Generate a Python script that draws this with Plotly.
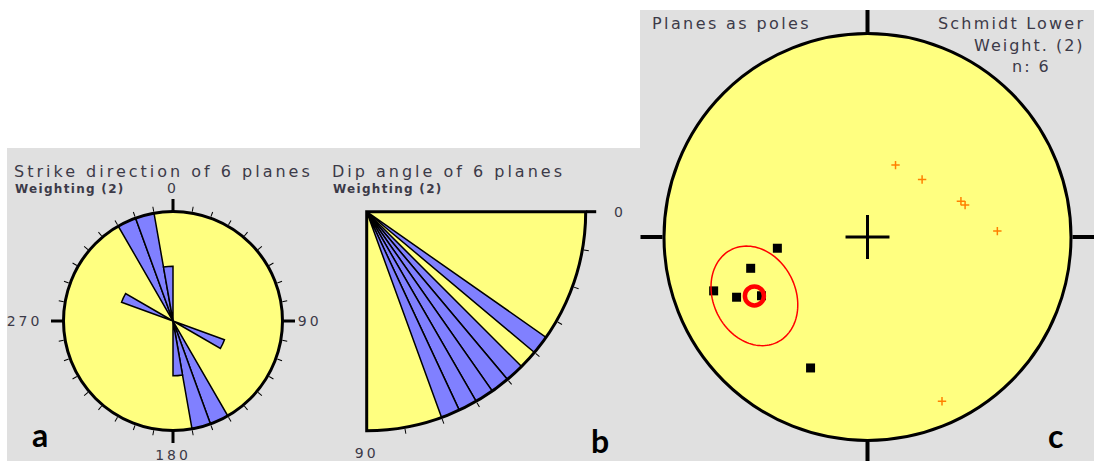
import numpy as np
import plotly.graph_objects as go

W, H = 1094, 461

# a: strike rose, 10 degree bins (the opposite half is the same data mirrored)
strike_bins = [290, 330, 340, 350]
strike_counts = [1, 2, 2, 1]
strike_labels = ["0", "90", "180", "270\u2009"]

# b: dip angle, 5 degree bins
dip_bins = [35, 45, 50, 55, 60, 65]
dip_counts = [1, 1, 1, 1, 1, 1]
dip_labels = ["\u00a0\u00a00", "90"]

# c: poles of planes and dip vectors (trend / plunge, degrees)
pole_trend = [262.9, 255.0, 250.7, 245.3, 203.5, 241.0]
pole_plunge = [53.2, 40.3, 21.0, 29.9, 30.5, 40.2]
dipvec_trend = [21.3, 43.5, 69.0, 71.9, 87.4, 155.6]
dipvec_plunge = [58.9, 58.0, 49.3, 48.2, 36.3, 12.4]
mean_trend = 242.5
mean_plunge = 37.4
cone_a, cone_b, cone_rot = 0.254, 0.202, 116.3

YELLOW = "#FFFF80"
BLUE = "#8080FF"
GRAY = "#E0E0E0"
TXT = "#3C3A48"
FONT = "DejaVu Sans"
CLEAR = "rgba(0,0,0,0)"


def dom_x(x0, x1):
    return [x0 / W, x1 / W]


def dom_y(y0, y1):
    return [1 - y1 / H, 1 - y0 / H]


def schmidt(plunge):
    return np.sqrt(2) * np.sin(np.radians(90 - np.asarray(plunge, dtype=float)) / 2)


def spaced(text, ls):
    return f"<span style='letter-spacing:{ls}px'>{text}</span>"


def dip_theta(d):
    # dip 0 = horizontal (east), 90 = vertical (south), counterclockwise sector
    return 360 - d


dom_a = dict(x=dom_x(63.5, 282.5), y=dom_y(211.5, 430.5))
dom_b = dict(x=dom_x(366.7, 585.7), y=dom_y(211.7, 430.7))
dom_c = dict(x=dom_x(664, 1071), y=dom_y(33.5, 440.5))

fig = go.Figure()


def placeholder(subplot):
    # overlay subplots only exist if a trace points at them
    fig.add_trace(go.Scatterpolar(r=[None], theta=[None], subplot=subplot,
                                  hoverinfo="skip", showlegend=False))


# a: rose diagram, both halves
theta_a = [b + 5 for b in strike_bins] + [(b + 185) % 360 for b in strike_bins]
fig.add_trace(go.Barpolar(
    r=strike_counts * 2, theta=theta_a, width=10,
    marker=dict(color=BLUE, line=dict(color="black", width=1.5)),
    subplot="polar", hoverinfo="skip", showlegend=False,
))
placeholder("polar2")

# b: dip sector
fig.add_trace(go.Barpolar(
    r=dip_counts, theta=[dip_theta(b + 2.5) for b in dip_bins], width=5,
    marker=dict(color=BLUE, line=dict(color="black", width=1.5)),
    subplot="polar3", hoverinfo="skip", showlegend=False,
))
placeholder("polar4")
placeholder("polar6")

# c: stereonet
CROSS = 0.108
fig.add_trace(go.Scatterpolar(
    r=[CROSS, CROSS, None, CROSS, CROSS], theta=[0, 180, None, 90, 270],
    mode="lines", line=dict(color="black", width=3),
    subplot="polar5", hoverinfo="skip", showlegend=False,
))
fig.add_trace(go.Scatterpolar(
    r=schmidt(dipvec_plunge), theta=dipvec_trend, mode="markers",
    marker=dict(symbol="cross-thin", size=6, color="#FF8000", line=dict(color="#FF8000", width=1.5)),
    subplot="polar5", hoverinfo="skip", showlegend=False,
))
fig.add_trace(go.Scatterpolar(
    r=schmidt(pole_plunge), theta=pole_trend, mode="markers",
    marker=dict(symbol="square", size=9, color="black"),
    subplot="polar5", hoverinfo="skip", showlegend=False,
))

# confidence cone around the mean pole
mr = float(schmidt(mean_plunge))
cx, cy = mr * np.sin(np.radians(mean_trend)), mr * np.cos(np.radians(mean_trend))
s = np.linspace(0, 2 * np.pi, 121)
phi = np.radians(cone_rot)
u, v = cone_a * np.cos(s), cone_b * np.sin(s)
ex = cx + u * np.cos(phi) - v * np.sin(phi)
ey = cy + u * np.sin(phi) + v * np.cos(phi)
fig.add_trace(go.Scatterpolar(
    r=np.hypot(ex, ey), theta=np.degrees(np.arctan2(ex, ey)) % 360,
    mode="lines", line=dict(color="#FF0000", width=1.5),
    subplot="polar5", hoverinfo="skip", showlegend=False,
))
fig.add_trace(go.Scatterpolar(
    r=[mr], theta=[mean_trend], mode="markers",
    marker=dict(symbol="circle-open", size=19, color="#FF0000", line=dict(color="#FF0000", width=4.5)),
    subplot="polar5", hoverinfo="skip", showlegend=False,
))

hidden_r = dict(visible=False)
base_ang = dict(showgrid=False, linecolor="black", tickcolor="black", showticklabels=False, ticks="outside")
label_font = dict(family=FONT, size=14, color=TXT)
sector_b = dict(domain=dom_b, sector=[270, 360], radialaxis=dict(hidden_r, range=[0, 1]))
ang_b = dict(base_ang, rotation=0, direction="counterclockwise")

fig.update_layout(
    width=W, height=H,
    margin=dict(l=0, r=0, t=0, b=0, pad=0),
    paper_bgcolor="white",
    showlegend=False,
    polar=dict(
        domain=dom_a, bgcolor=YELLOW,
        radialaxis=dict(hidden_r, range=[0, 2]),
        angularaxis=dict(base_ang, rotation=90, direction="clockwise", showline=True, linewidth=3,
                         tickvals=list(range(0, 360, 10)), ticklen=5, tickwidth=1),
    ),
    polar2=dict(
        domain=dom_a, bgcolor=CLEAR,
        radialaxis=dict(hidden_r, range=[0, 2]),
        angularaxis=dict(base_ang, rotation=90, direction="clockwise", showline=False,
                         tickvals=[0, 90, 180, 270],
                         ticktext=[spaced(t, 3) for t in strike_labels],
                         showticklabels=True, ticklen=12, tickwidth=3, tickfont=label_font),
    ),
    polar3=dict(
        sector_b, bgcolor=YELLOW,
        angularaxis=dict(ang_b, showline=True, linewidth=3,
                         tickvals=[dip_theta(d) for d in range(10, 90, 10)], ticklen=5, tickwidth=1),
    ),
    polar6=dict(
        sector_b, bgcolor=CLEAR,
        angularaxis=dict(ang_b, showline=False, tickvals=[dip_theta(0)], ticklen=10, tickwidth=3),
    ),
    polar4=dict(
        sector_b, bgcolor=CLEAR,
        angularaxis=dict(ang_b, showline=False, tickcolor=CLEAR,
                         tickvals=[dip_theta(0), dip_theta(90)],
                         ticktext=[spaced(t, 3) for t in dip_labels],
                         showticklabels=True, ticklen=10, tickwidth=1, tickfont=label_font),
    ),
    polar5=dict(
        domain=dom_c, bgcolor=YELLOW,
        radialaxis=dict(hidden_r, range=[0, 1]),
        angularaxis=dict(base_ang, rotation=90, direction="clockwise", showline=True, linewidth=3,
                         tickvals=[0, 90, 180, 270], ticklen=22, tickwidth=3.5),
    ),
)

# grey panels
fig.add_shape(type="rect", xref="paper", yref="paper", x0=7 / W, x1=640 / W, y0=0, y1=1 - 148 / H,
              fillcolor=GRAY, line_width=0, layer="below")
fig.add_shape(type="rect", xref="paper", yref="paper", x0=640 / W, x1=1, y0=0, y1=1 - 10 / H,
              fillcolor=GRAY, line_width=0, layer="below")


def note(text, x, y, size=16, ls=3.0, xanchor="left", color=TXT, family=FONT, bold=False):
    t = f"<b>{text}</b>" if bold else text
    if ls:
        t = spaced(t, ls)
    fig.add_annotation(text=t, x=x / W, y=1 - y / H, xref="paper", yref="paper",
                       xanchor=xanchor, yanchor="middle", showarrow=False,
                       font=dict(family=family, size=size, color=color))


note("Strike direction of 6 planes", 12, 171)
note("Weighting (2)", 13, 189, size=12, ls=1.3, bold=True)
note("Dip angle of 6 planes", 330, 171)
note("Weighting (2)", 331, 189, size=12, ls=1.3, bold=True)
note("Planes as poles", 650, 23, ls=2.4)
note("Schmidt Lower", 1087, 23, ls=2.2, xanchor="right")
note("Weight. (2)", 1087, 45, ls=2.0, xanchor="right")
note("n: 6", 1031, 66, ls=2.0, xanchor="center")

note("a", 40, 434, size=32, ls=0, xanchor="center", color="black", family="Lato", bold=True)
note("b", 600, 440, size=32, ls=0, xanchor="center", color="black", family="Lato", bold=True)
note("c", 1055, 435, size=32, ls=0, xanchor="center", color="black", family="Lato", bold=True)

# the default page adds an 8px body margin; drop it so the figure fills the window
fig.write_html("out.html", config={"displayModeBar": False},
               post_script="document.body.style.margin='0';")
